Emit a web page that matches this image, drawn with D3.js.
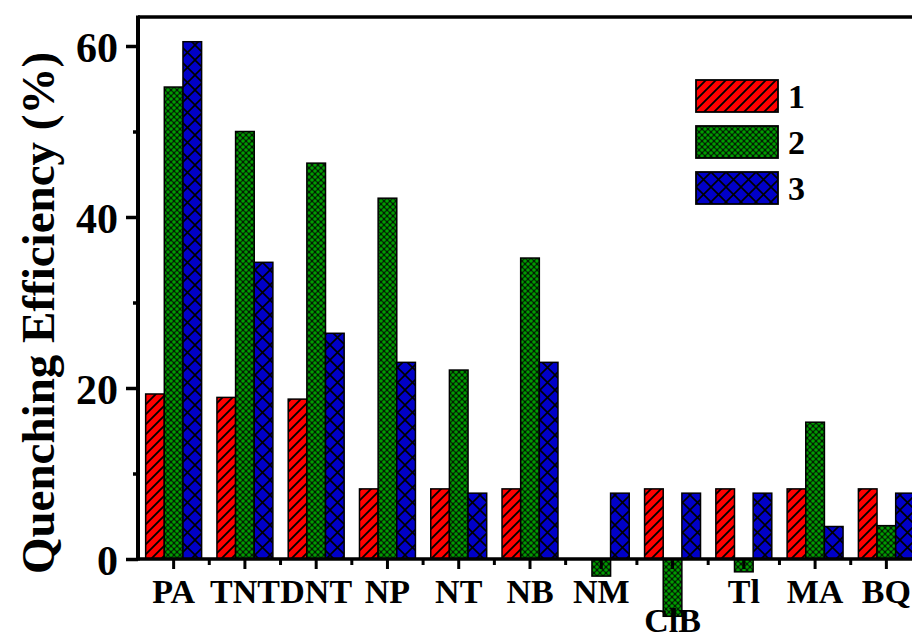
<!DOCTYPE html>
<html>
<head>
<meta charset="utf-8">
<script src="https://cdn.jsdelivr.net/npm/d3@7"></script>
<style>
  body { margin: 0; background: #fff; }
  svg { display: block; }
  text { font-family: "Liberation Serif", "Times New Roman", serif; font-weight: bold; fill: #000; }
</style>
</head>
<body>
<div id="chart"></div>
<script>
// analytes on the x axis
const categories = ['PA', 'TNT', 'DNT', 'NP', 'NT', 'NB', 'NM', 'ClB', 'Tl', 'MA', 'BQ'];
const seriesNames = ['1', '2', '3'];
// quenching efficiency (%) for each compound
const series1 = [19.3, 18.9, 18.7, 8.2, 8.2, 8.2, 0, 8.2, 8.2, 8.2, 8.2];
const series2 = [55.2, 50.0, 46.3, 42.2, 22.1, 35.2, -2.0, -6.7, -1.5, 16.0, 3.9];
const series3 = [60.5, 34.7, 26.4, 23.0, 7.7, 23.0, 7.7, 7.7, 7.7, 3.8, 7.7];
const yMajorTicks = [0, 20, 40, 60];
const yMinorTicks = [10, 30, 50];

const W = 912, H = 641;
const plotLeft = 138, plotRight = 922, zeroY = 559, plotTop = 17;

const svg = d3.select('#chart').append('svg')
  .attr('width', W).attr('height', H);

const defs = svg.append('defs');

// hatch patterns
let p1 = defs.append('pattern').attr('id', 'pat-1')
  .attr('patternUnits', 'userSpaceOnUse').attr('width', 10).attr('height', 10);
p1.append('rect').attr('width', 10).attr('height', 10).attr('fill', '#ff0000');
p1.append('path').attr('d', 'M-2,12 L12,-2 M-2,2 L2,-2 M8,12 L12,8')
  .attr('stroke', '#000').attr('stroke-width', 1.8);

let p2 = defs.append('pattern').attr('id', 'pat-2')
  .attr('patternUnits', 'userSpaceOnUse').attr('width', 6).attr('height', 6);
p2.append('rect').attr('width', 6).attr('height', 6).attr('fill', '#031c03');
p2.append('circle').attr('cx', 3).attr('cy', 3).attr('r', 1.8).attr('fill', '#009c00');
[[0, 0], [6, 0], [0, 6], [6, 6]].forEach(c => {
  p2.append('circle').attr('cx', c[0]).attr('cy', c[1]).attr('r', 1.8).attr('fill', '#009c00');
});

let p3 = defs.append('pattern').attr('id', 'pat-3')
  .attr('patternUnits', 'userSpaceOnUse').attr('width', 15).attr('height', 15);
p3.append('rect').attr('width', 15).attr('height', 15).attr('fill', '#0000c8');
p3.append('path').attr('d', 'M0,0 L15,15 M15,0 L0,15')
  .attr('stroke', '#000').attr('stroke-width', 1.6);

const x = d3.scaleBand()
  .domain(categories)
  .range([plotLeft, plotRight])
  .paddingInner(0.215)
  .paddingOuter(0.1075);

const xs = d3.scaleBand()
  .domain(seriesNames)
  .range([0, x.bandwidth()]);

const y = d3.scaleLinear()
  .domain([0, 60])
  .range([zeroY, 46]);

const allSeries = [series1, series2, series3];
const rows = [];
categories.forEach((c, i) => {
  seriesNames.forEach((s, j) => {
    rows.push({ cat: c, s: s, v: allSeries[j][i] });
  });
});

// bars
svg.append('g').selectAll('rect')
  .data(rows.filter(d => d.v !== 0))
  .enter().append('rect')
  .attr('x', d => x(d.cat) + xs(d.s))
  .attr('width', xs.bandwidth())
  .attr('y', d => y(Math.max(0, d.v)))
  .attr('height', d => Math.abs(y(d.v) - y(0)))
  .attr('fill', d => `url(#pat-${d.s})`)
  .attr('stroke', '#000')
  .attr('stroke-width', 1.5);

// frame
svg.append('line').attr('x1', plotLeft).attr('x2', W).attr('y1', plotTop).attr('y2', plotTop)
  .attr('stroke', '#000').attr('stroke-width', 3.5);

// y axis
const yAxis = svg.append('g').attr('transform', `translate(${plotLeft},0)`)
  .call(d3.axisLeft(y).tickValues(yMajorTicks).tickSize(12).tickPadding(8).tickFormat(d3.format('d')));
yAxis.select('.domain').remove();
yAxis.selectAll('.tick line').attr('stroke-width', 3.5);
yAxis.selectAll('.tick text').style('font-size', '42px').attr('dy', '0.36em');
svg.append('line').attr('x1', plotLeft).attr('x2', plotLeft).attr('y1', plotTop - 1.5).attr('y2', zeroY + 1.5)
  .attr('stroke', '#000').attr('stroke-width', 4);

svg.append('g').attr('transform', `translate(${plotLeft},0)`)
  .call(d3.axisLeft(y).tickValues(yMinorTicks).tickSize(5).tickFormat(''))
  .call(g => g.select('.domain').remove())
  .selectAll('.tick line').attr('stroke-width', 3.5);

// x axis at zero
const xAxis = svg.append('g').attr('transform', `translate(0,${zeroY})`)
  .call(d3.axisBottom(x).tickSize(10).tickPadding(10));
xAxis.select('.domain').remove();
xAxis.selectAll('.tick line').attr('stroke-width', 3);
xAxis.selectAll('.tick text')
  .style('font-size', '34px')
  .attr('y', d => d === 'ClB' ? 73 : 44)
  .attr('dy', 0);

// minor x ticks between groups
const bounds = categories.slice(1).map(c => x(c) - x.step() * x.paddingInner() / 2);
svg.append('g').selectAll('line').data(bounds).enter().append('line')
  .attr('x1', d => d).attr('x2', d => d)
  .attr('y1', zeroY).attr('y2', zeroY + 6)
  .attr('stroke', '#000').attr('stroke-width', 3);

svg.append('line').attr('x1', plotLeft).attr('x2', W).attr('y1', zeroY).attr('y2', zeroY)
  .attr('stroke', '#000').attr('stroke-width', 3.5);

// y title
svg.append('text')
  .attr('transform', `translate(54,${313}) rotate(-90)`)
  .attr('text-anchor', 'middle')
  .style('font-size', '47px')
  .text('Quenching Efficiency (%)');

// legend
const legend = svg.append('g').selectAll('g')
  .data(seriesNames)
  .enter().append('g')
  .attr('transform', (d, i) => `translate(696,${80 + i * 46})`);
legend.append('rect')
  .attr('width', 82).attr('height', 32)
  .attr('fill', d => `url(#pat-${d})`)
  .attr('stroke', '#000').attr('stroke-width', 1.8);
legend.append('text')
  .attr('x', 92).attr('y', 28)
  .style('font-size', '34px')
  .text(d => d);
</script>
</body>
</html>
